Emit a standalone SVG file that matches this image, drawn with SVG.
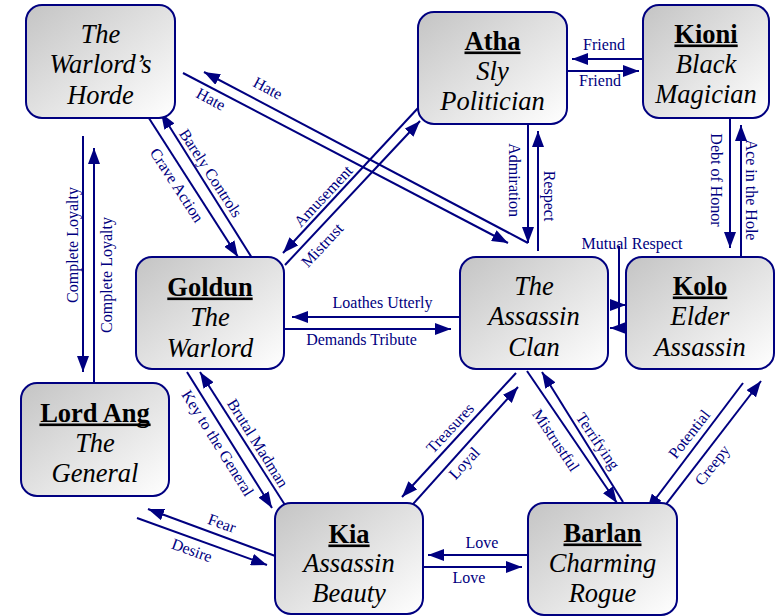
<svg xmlns="http://www.w3.org/2000/svg" width="779" height="616" viewBox="0 0 779 616">
<style>
.nd rect.b{fill:url(#g);stroke:#000080;stroke-width:2}
.nd text{font-size:26.5px;text-anchor:middle;fill:#000}
.nd .nm{font-weight:bold}
.nd .ds{font-style:italic}
.nd rect.u{fill:#000}
#connectors path{stroke:#000080;stroke-width:2;fill:none;marker-end:url(#a)}
#connectors text{font-size:16px;fill:#000080;text-anchor:middle}
</style>
<defs>
<linearGradient id="g" x1="0" y1="0" x2="1" y2="1">
<stop offset="0" stop-color="#c4c4c4"/>
<stop offset="1" stop-color="#ffffff"/>
</linearGradient>
<marker id="a" markerUnits="userSpaceOnUse" markerWidth="16" markerHeight="12" refX="16" refY="6" orient="auto">
<path d="M0,0 L16,6 L0,12 z" fill="#000080"/>
</marker>
</defs>
<rect width="779" height="616" fill="#fff"/>
<g font-family="Liberation Serif, DejaVu Serif, serif">
<g id="connectors">
<path d="M643,59 L572,59"/>
<text x="604" y="50">Friend</text>
<path d="M567,71 L639,71"/>
<text x="600" y="86">Friend</text>
<path d="M528,124 L528,243"/>
<text transform="translate(515,180) rotate(90)" dy="0.35em">Admiration</text>
<path d="M538,251 L538,131"/>
<text transform="translate(550,196) rotate(90)" dy="0.35em">Respect</text>
<path d="M730,118 L730,248"/>
<text transform="translate(717,180) rotate(90)" dy="0.35em">Debt of Honor</text>
<path d="M741,257 L741,125"/>
<text transform="translate(752,190) rotate(90)" dy="0.35em">Ace in the Hole</text>
<path d="M83,136 L83,372"/>
<text transform="translate(72,245) rotate(-90)" dy="0.35em">Complete Loyalty</text>
<path d="M94,383 L94,148"/>
<text transform="translate(106,275) rotate(-90)" dy="0.35em">Complete Loyalty</text>
<path d="M145,112 L238,257"/>
<text transform="translate(177,185) rotate(57)" dy="0.35em">Crave Action</text>
<path d="M252,258 L161,113"/>
<text transform="translate(211,173) rotate(57)" dy="0.35em">Barely Controls</text>
<path d="M528,243 L204,72"/>
<text transform="translate(268,88) rotate(28)" dy="0.35em">Hate</text>
<path d="M183,73 L508,243"/>
<text transform="translate(211,99) rotate(28)" dy="0.35em">Hate</text>
<path d="M419,107 L283,253"/>
<text transform="translate(323,196) rotate(-47)" dy="0.35em">Amusement</text>
<path d="M285,265 L420,121"/>
<text transform="translate(322,245) rotate(-47)" dy="0.35em">Mistrust</text>
<path d="M460,317 L292,317"/>
<text x="382.5" y="308">Loathes Utterly</text>
<path d="M284,329 L451,329"/>
<text x="361.5" y="345">Demands Tribute</text>
<path d="M187,372 L272,508"/>
<text transform="translate(218,443) rotate(58)" dy="0.35em">Key to the General</text>
<path d="M285,505 L200,372"/>
<text transform="translate(258,443) rotate(58)" dy="0.35em">Brutal Madman</text>
<path d="M278,557 L148,509"/>
<text transform="translate(222,523) rotate(20)" dy="0.35em">Fear</text>
<path d="M137,518 L267,565"/>
<text transform="translate(192,550) rotate(20)" dy="0.35em">Desire</text>
<path d="M516,373 L402,497"/>
<text transform="translate(450,428) rotate(-47)" dy="0.35em">Treasures</text>
<path d="M405,513 L518,387"/>
<text transform="translate(464,463) rotate(-47)" dy="0.35em">Loyal</text>
<path d="M527,371 L617,503"/>
<text transform="translate(556,440) rotate(56)" dy="0.35em">Mistrustful</text>
<path d="M623,502 L542,372"/>
<text transform="translate(598,441) rotate(56)" dy="0.35em">Terrifying</text>
<path d="M743,383 L647,510"/>
<text transform="translate(689,434) rotate(-52)" dy="0.35em">Potential</text>
<path d="M650,525 L761,381"/>
<text transform="translate(712,465) rotate(-52)" dy="0.35em">Creepy</text>
<path d="M528,555 L428,555"/>
<text x="482" y="548">Love</text>
<path d="M423,567 L522,567"/>
<text x="469" y="583">Love</text>
<path d="M619,246 L619,305 L626,305"/>
<path d="M619,246 L619,328 L610,328"/>
<text x="632" y="249">Mutual Respect</text>
</g>

<g id="horde" class="nd">
<rect class="b" x="26" y="5" width="149" height="113" rx="16"/>
<text class="ds" x="100.5" y="43">The</text>
<text class="ds" x="100.5" y="73">Warlord’s</text>
<text class="ds" x="100.5" y="104">Horde</text>
</g>
<g id="atha" class="nd">
<rect class="b" x="418" y="12" width="149" height="112" rx="16"/>
<text class="nm" x="492.5" y="50">Atha</text>
<rect class="u" x="464.5" y="51.5" width="56" height="2.6"/>
<text class="ds" x="492.5" y="80">Sly</text>
<text class="ds" x="492.5" y="110">Politician</text>
</g>
<g id="kioni" class="nd">
<rect class="b" x="643" y="5" width="126" height="113" rx="16"/>
<text class="nm" x="706" y="43">Kioni</text>
<rect class="u" x="674.4" y="44.5" width="63.3" height="2.6"/>
<text class="ds" x="706" y="73">Black</text>
<text class="ds" x="706" y="103">Magician</text>
</g>
<g id="goldun" class="nd">
<rect class="b" x="136" y="257" width="148" height="112" rx="16"/>
<text class="nm" x="210" y="296">Goldun</text>
<rect class="u" x="167.3" y="297.5" width="85.4" height="2.6"/>
<text class="ds" x="210" y="326">The</text>
<text class="ds" x="210" y="357">Warlord</text>
</g>
<g id="lordang" class="nd">
<rect class="b" x="21" y="383" width="148" height="113" rx="16"/>
<text class="nm" x="95" y="422">Lord Ang</text>
<rect class="u" x="39.4" y="423.5" width="111.2" height="2.6"/>
<text class="ds" x="95" y="452">The</text>
<text class="ds" x="95" y="482">General</text>
</g>
<g id="clan" class="nd">
<rect class="b" x="460" y="257" width="148" height="112" rx="16"/>
<text class="ds" x="534" y="295">The</text>
<text class="ds" x="534" y="325">Assassin</text>
<text class="ds" x="534" y="356">Clan</text>
</g>
<g id="kolo" class="nd">
<rect class="b" x="626" y="257" width="148" height="112" rx="16"/>
<text class="nm" x="700" y="295">Kolo</text>
<rect class="u" x="672.8" y="296.5" width="54.5" height="2.6"/>
<text class="ds" x="700" y="325">Elder</text>
<text class="ds" x="700" y="356">Assassin</text>
</g>
<g id="kia" class="nd">
<rect class="b" x="275" y="503" width="148" height="111" rx="16"/>
<text class="nm" x="349" y="543">Kia</text>
<rect class="u" x="328.4" y="544.5" width="41.2" height="2.6"/>
<text class="ds" x="349" y="572">Assassin</text>
<text class="ds" x="349" y="602">Beauty</text>
</g>
<g id="barlan" class="nd">
<rect class="b" x="528" y="503" width="149" height="112" rx="16"/>
<text class="nm" x="602.5" y="542">Barlan</text>
<rect class="u" x="563.5" y="543.5" width="78" height="2.6"/>
<text class="ds" x="602.5" y="572">Charming</text>
<text class="ds" x="602.5" y="602">Rogue</text>
</g>
</g>
</svg>
